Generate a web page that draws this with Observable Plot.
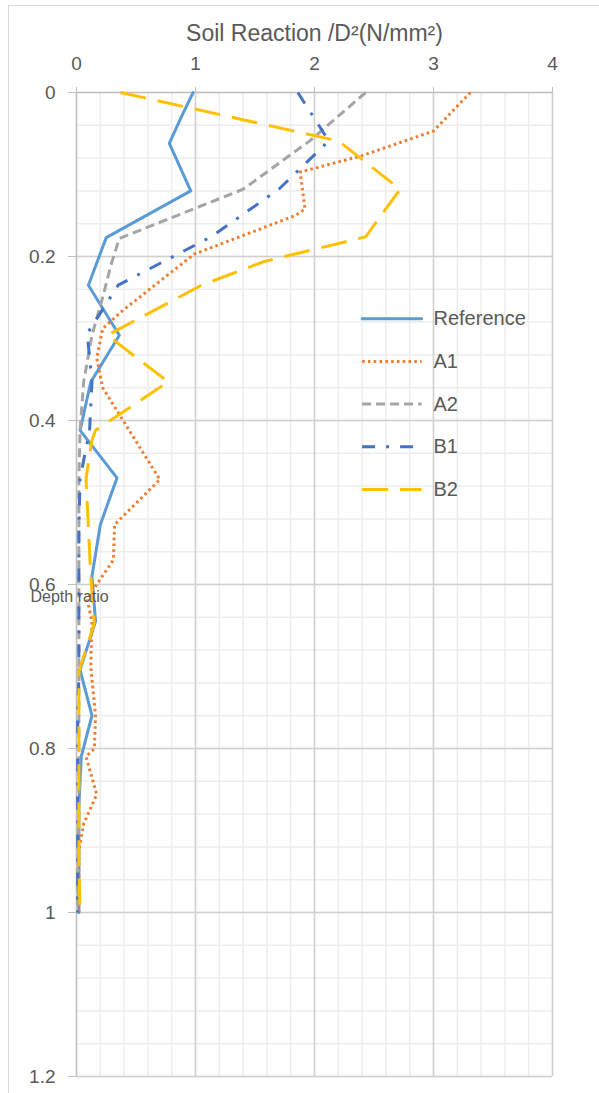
<!DOCTYPE html>
<html>
<head>
<meta charset="utf-8">
<script src="https://cdn.jsdelivr.net/npm/d3@7"></script>
<script src="https://cdn.jsdelivr.net/npm/@observablehq/plot@0.6"></script>
<style>
  html, body { margin: 0; padding: 0; background: #fff; }
  #chart { width: 599px; height: 1093px; }
</style>
</head>
<body>
<div id="chart"></div>
<script>
// ---- tick labels ----
const xTicks = [0, 1, 2, 3, 4];
const yTicks = [0, 0.2, 0.4, 0.6, 0.8, 1, 1.2];
const titleText = "Soil Reaction /D\u00B2(N/mm\u00B2)";
const yLabelText = "Depth ratio";

// ---- series (depth ratio, soil reaction) ----
const seriesNames = ["Reference", "A1", "A2", "B1", "B2"];

const refDepth = [0, 0.03, 0.062, 0.12, 0.177, 0.235, 0.296, 0.353, 0.412, 0.47, 0.527, 0.59, 0.645, 0.704, 0.76, 0.81, 0.87, 0.93, 1.0];
const refVal   = [0.98, 0.88, 0.78, 0.96, 0.25, 0.10, 0.36, 0.12, 0.03, 0.34, 0.20, 0.13, 0.16, 0.03, 0.13, 0.04, 0.02, 0.02, 0.02];

const a1Depth = [0, 0.047, 0.077, 0.097, 0.142, 0.15, 0.197, 0.268, 0.288, 0.324, 0.36, 0.472, 0.527, 0.57, 0.6, 0.618, 0.645, 0.70, 0.76, 0.80, 0.81, 0.856, 0.892, 0.925, 1.0];
const a1Val   = [3.31, 3.0, 2.40, 1.88, 1.92, 1.84, 0.99, 0.37, 0.22, 0.17, 0.22, 0.70, 0.32, 0.31, 0.17, 0.09, 0.13, 0.12, 0.16, 0.15, 0.08, 0.17, 0.06, 0.02, 0.02];

const a2Depth = [0, 0.059, 0.118, 0.178, 0.21, 0.25, 0.296, 0.353, 0.412, 0.47, 0.53, 0.59, 0.65, 0.71, 0.76, 0.82, 0.88, 0.94, 1.0];
const a2Val   = [2.43, 1.96, 1.40, 0.36, 0.29, 0.22, 0.13, 0.06, 0.03, 0.02, 0.02, 0.02, 0.02, 0.02, 0.02, 0.02, 0.02, 0.01, 0.01];

const b1Depth = [0, 0.059, 0.118, 0.176, 0.235, 0.294, 0.353, 0.412, 0.471, 0.53, 0.59, 0.65, 0.71, 0.76, 0.82, 0.88, 0.94, 1.0];
const b1Val   = [1.86, 2.12, 1.70, 1.13, 0.35, 0.09, 0.13, 0.11, 0.03, 0.02, 0.02, 0.02, 0.02, 0.01, 0.01, 0.01, 0.01, 0.01];

const b2Depth = [0, 0.059, 0.118, 0.176, 0.206, 0.235, 0.296, 0.353, 0.412, 0.424, 0.471, 0.53, 0.59, 0.647, 0.706, 0.76, 0.82, 0.88, 0.94, 1.0];
const b2Val   = [0.37, 2.20, 2.72, 2.43, 1.58, 1.05, 0.26, 0.77, 0.16, 0.13, 0.08, 0.10, 0.12, 0.15, 0.02, 0.02, 0.02, 0.02, 0.02, 0.03];

const depthArrays = [refDepth, a1Depth, a2Depth, b1Depth, b2Depth];
const valueArrays = [refVal, a1Val, a2Val, b1Val, b2Val];

// ---- styles ----
const styles = {
  "Reference": {stroke: "#5B9BD5", strokeWidth: 3, strokeDasharray: null, strokeLinecap: "round"},
  "A1": {stroke: "#ED7D31", strokeWidth: 3, strokeDasharray: "2.6,3.2", strokeLinecap: "butt"},
  "A2": {stroke: "#A5A5A5", strokeWidth: 3, strokeDasharray: "9,5", strokeLinecap: "butt"},
  "B1": {stroke: "#4472C4", strokeWidth: 3, strokeDasharray: "13,11,3,11", strokeLinecap: "butt"},
  "B2": {stroke: "#FFC000", strokeWidth: 3, strokeDasharray: "26,12", strokeLinecap: "butt"}
};

const rows = seriesNames.map((name, i) =>
  depthArrays[i].map((d, j) => ({series: name, depth: d, value: valueArrays[i][j]}))
);

const minorX = d3.range(0, 4.0001, 0.2);
const minorY = d3.range(0, 1.2001, 0.04);

const textColor = "#595959";
const font = "'Liberation Sans', Arial, sans-serif";

// legend layout (in scale units)
const legRow0 = 0.276, legStep = 0.052, legX1 = 2.40, legX2 = 2.90, legTX = 3.0;
const legend = seriesNames.map((name, i) => ({name, y: legRow0 + i * legStep}));

const lineMarks = seriesNames.map((name, i) =>
  Plot.line(rows[i], {
    x: "value", y: "depth",
    stroke: styles[name].stroke,
    strokeWidth: styles[name].strokeWidth,
    strokeDasharray: styles[name].strokeDasharray,
    strokeLinecap: styles[name].strokeLinecap,
    strokeLinejoin: "round",
    curve: "linear"
  })
);

const legendMarks = legend.map(l =>
  Plot.link([l], {
    x1: () => legX1, x2: () => legX2, y1: "y", y2: "y",
    stroke: styles[l.name].stroke,
    strokeWidth: styles[l.name].strokeWidth,
    strokeDasharray: styles[l.name].strokeDasharray,
    strokeLinecap: styles[l.name].strokeLinecap
  })
);

const chart = Plot.plot({
  width: 599,
  height: 1093,
  marginTop: 92,
  marginLeft: 76,
  marginRight: 47,
  marginBottom: 17,
  style: {fontFamily: font, background: "#fff", overflow: "visible"},
  x: {domain: [0, 4]},
  y: {domain: [0, 1.2], reverse: true},
  marks: [
    Plot.ruleX(minorX, {stroke: "#EDEDED", strokeWidth: 1.5}),
    Plot.ruleY(minorY, {stroke: "#EDEDED", strokeWidth: 1.5}),
    Plot.ruleX(xTicks.slice(1), {stroke: "#D0D0D0", strokeWidth: 1.5}),
    Plot.ruleY(yTicks.slice(1), {stroke: "#D0D0D0", strokeWidth: 1.5}),
    Plot.ruleX([0], {stroke: "#BFBFBF", strokeWidth: 1.5}),
    Plot.ruleY([0], {stroke: "#BFBFBF", strokeWidth: 1.5}),
    Plot.axisX(xTicks, {anchor: "top", tickSize: 6, tickPadding: 17, stroke: "#BFBFBF", fill: textColor, fontSize: 19, label: null, tickFormat: d => String(d)}),
    Plot.axisY(yTicks, {anchor: "left", tickSize: 8, tickPadding: 13, stroke: "#BFBFBF", fill: textColor, fontSize: 19, label: null, tickFormat: d => String(d)}),
    ...lineMarks,
    ...legendMarks,
    Plot.text(legend, {x: () => legTX, y: "y", text: "name", textAnchor: "start", fill: textColor, fontSize: 20}),
    Plot.text([titleText], {frameAnchor: "top", dy: -59, text: d => d, fill: textColor, fontSize: 23, lineAnchor: "middle"}),
    Plot.text([yLabelText], {frameAnchor: "left", dx: -46, dy: 12, text: d => d, fill: textColor, fontSize: 16, textAnchor: "start", lineAnchor: "middle"})
  ]
});

// outer chart border
d3.select(chart).insert("rect", ":first-child")
  .attr("x", 8.5).attr("y", 5.5).attr("width", 599).attr("height", 1093)
  .attr("fill", "none").attr("stroke", "#D9D9D9");

document.getElementById("chart").appendChild(chart);
</script>
</body>
</html>
